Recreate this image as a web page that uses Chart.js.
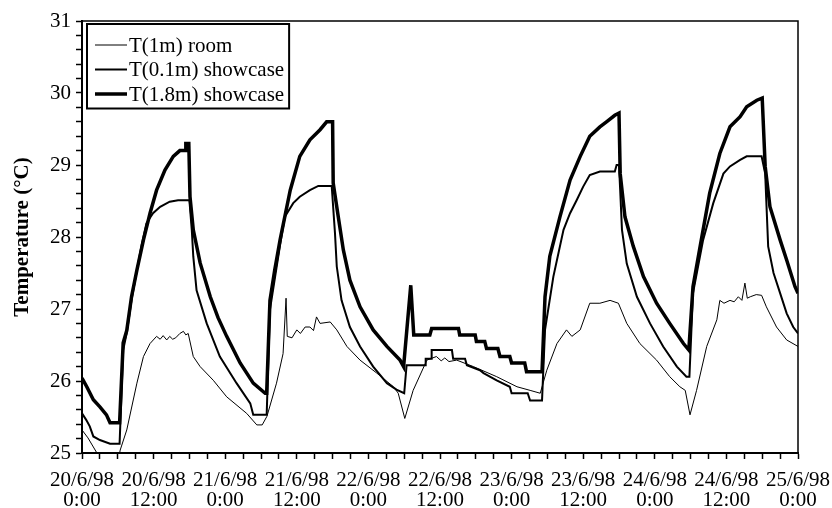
<!DOCTYPE html>
<html>
<head>
<meta charset="utf-8">
<script src="https://cdn.jsdelivr.net/npm/chart.js@4.4.1/dist/chart.umd.min.js"></script>
<style>
html,body{margin:0;padding:0;background:#fff;}
#wrap{width:832px;height:508px;}
</style>
</head>
<body>
<div id="wrap"><canvas id="c" width="832" height="508"></canvas></div>
<script>
// ---- tick labels (x axis: hours from 20/6/98 0:00) ----
const xTickDates = ['20/6/98','20/6/98','21/6/98','21/6/98','22/6/98','22/6/98','23/6/98','23/6/98','24/6/98','24/6/98','25/6/98'];
const xTickTimes = ['0:00','12:00','0:00','12:00','0:00','12:00','0:00','12:00','0:00','12:00','0:00'];
const seriesLabels = ['T(1m) room','T(0.1m) showcase','T(1.8m) showcase'];

// ---- T(1m) room ----
const roomHours = [0,1.0,2.5,3.0,6.0,6.4,7.5,9.2,10.3,11.4,12.5,13.1,13.6,14.2,14.7,15.2,15.7,16.4,17.0,17.4,17.8,18.65,19.8,22.0,24.25,27.6,29.3,30.2,31.0,32.6,33.7,34.2,34.4,35.2,36.0,36.6,37.4,38.2,38.8,39.3,39.9,41.6,42.7,44.4,46.6,49.4,52.2,53.0,54.1,55.5,57.8,59.4,60.2,60.8,61.5,62.8,65.6,69.5,72.9,75.1,76.8,77.9,79.6,81.2,82.1,83.5,85.1,86.8,88.5,89.9,91.3,93.5,96.3,98.5,100.2,101.1,101.9,103.0,104.7,106.4,106.9,107.6,108.6,109.3,110.0,110.6,111.1,111.5,112.0,113.0,113.9,114.7,116.4,118.1,120];
const roomTemps = [25.32,25.21,25.00,24.85,24.85,25.04,25.32,25.97,26.34,26.52,26.62,26.58,26.63,26.57,26.62,26.58,26.60,26.66,26.69,26.64,26.66,26.34,26.20,26.01,25.78,25.55,25.39,25.39,25.51,25.97,26.38,27.15,26.62,26.60,26.71,26.66,26.75,26.75,26.70,26.89,26.80,26.82,26.71,26.48,26.29,26.11,25.92,25.83,25.48,25.87,26.29,26.34,26.28,26.32,26.27,26.29,26.20,26.06,25.92,25.87,25.83,26.15,26.52,26.71,26.62,26.71,27.08,27.08,27.12,27.08,26.80,26.52,26.29,26.06,25.92,25.87,25.53,25.87,26.48,26.85,27.12,27.08,27.12,27.10,27.17,27.12,27.36,27.15,27.17,27.20,27.19,27.03,26.75,26.57,26.48];

// ---- T(0.1m) showcase ----
const lowHours = [0,0.7,1.3,1.9,3.0,4.7,6.3,6.9,7.5,8.3,9.2,10.0,10.8,11.9,13.1,14.7,16.1,18.0,18.4,18.65,19.2,20.9,23.1,25.9,28.2,28.7,30.95,31.5,33.2,34.0,35.4,36.5,38.2,39.6,41.85,42.4,42.7,43.5,44.9,46.6,48.8,51.1,52.7,54.0,54.4,57.5,57.6,58.5,58.6,62.0,62.2,64.2,64.5,66.7,67.3,69.5,71.7,72.0,74.7,75.1,77.1,77.6,79.0,80.7,81.8,82.9,84.0,85.1,86.8,89.3,89.6,90.0,90.2,90.5,91.3,93.0,95.2,97.4,99.7,101.3,101.8,102.4,104.1,105.8,107.5,108.6,110.3,111.4,113.9,114.5,115.0,115.9,117.0,118.1,119.2,120];
const lowTemps = [25.55,25.46,25.37,25.23,25.18,25.13,25.13,26.43,26.67,27.12,27.54,27.89,28.19,28.33,28.42,28.49,28.51,28.51,28.10,27.73,27.26,26.80,26.34,25.97,25.69,25.53,25.53,26.99,27.89,28.28,28.47,28.56,28.65,28.71,28.71,28.05,27.59,27.12,26.75,26.48,26.20,25.97,25.88,25.83,26.22,26.22,26.31,26.31,26.43,26.43,26.31,26.31,26.22,26.15,26.11,26.01,25.92,25.83,25.83,25.73,25.73,26.71,27.45,28.10,28.33,28.51,28.70,28.86,28.91,28.91,29.00,29.00,28.65,28.10,27.63,27.17,26.80,26.48,26.20,26.06,26.06,27.22,27.96,28.47,28.88,28.98,29.07,29.12,29.12,28.88,27.87,27.50,27.22,26.94,26.75,26.66];

// ---- T(1.8m) showcase ----
const highHours = [0,0.8,1.9,3.0,4.1,4.7,6.3,6.9,7.5,8.3,9.2,10.3,11.4,12.5,13.9,15.3,16.4,17.3,17.4,17.9,18.1,18.65,19.8,21.5,22.8,24.25,26.5,28.7,30.7,30.95,31.5,32.3,33.2,34.9,36.5,38.2,39.9,41.0,42.0,42.1,42.95,43.8,44.9,46.6,48.8,51.1,53.3,53.9,55.1,55.6,58.3,58.6,63.1,63.3,65.9,66.1,67.5,67.8,69.7,70.05,71.7,72.0,74.2,74.5,77.1,77.6,78.4,80.1,81.8,83.5,85.1,86.8,87.9,89.3,90.0,90.2,91.0,92.4,94.1,96.3,98.5,100.8,101.7,102.4,103.6,105.2,106.9,108.6,110.3,111.4,113.1,114.0,114.5,115.3,117.0,118.1,119.5,120];
const highTemps = [26.04,25.92,25.74,25.64,25.53,25.42,25.42,26.53,26.70,27.17,27.54,27.96,28.33,28.65,28.93,29.12,29.20,29.20,29.30,29.30,28.56,28.10,27.64,27.17,26.88,26.62,26.25,25.97,25.83,25.83,27.12,27.54,27.96,28.65,29.12,29.35,29.49,29.60,29.60,28.75,28.28,27.82,27.40,27.03,26.71,26.48,26.29,26.20,27.33,26.64,26.64,26.73,26.73,26.64,26.64,26.55,26.55,26.45,26.45,26.34,26.34,26.25,26.25,26.13,26.13,27.17,27.73,28.28,28.79,29.12,29.40,29.53,29.60,29.69,29.72,28.88,28.28,27.87,27.45,27.08,26.80,26.52,26.43,27.31,27.87,28.61,29.16,29.53,29.67,29.81,29.90,29.93,28.98,28.42,27.96,27.68,27.31,27.22];

const FONT = '"Liberation Serif", "Times New Roman", serif';
const pts = (xs, ys) => xs.map((x, i) => ({x: x, y: ys[i]}));

const frameAndLegend = {
  id: 'frameAndLegend',
  afterDatasetsDraw(chart) {
    const ctx = chart.ctx, a = chart.chartArea;
    ctx.save();
    ctx.strokeStyle = '#000';
    ctx.lineWidth = 1.5;
    ctx.strokeRect(a.left, a.top, a.right - a.left, a.bottom - a.top);
    // legend box
    ctx.font = '21px ' + FONT;
    const ds = chart.data.datasets;
    let maxW = 0;
    ds.forEach(d => { maxW = Math.max(maxW, ctx.measureText(d.label).width); });
    const x0 = a.left + 5, y0 = a.top + 3, rowH = 24.5, lineLen = 32;
    const boxW = 8 + lineLen + 2 + maxW + 5;
    const boxH = 3 * rowH + 11;
    ctx.fillStyle = '#fff';
    ctx.fillRect(x0, y0, boxW, boxH);
    ctx.lineWidth = 2;
    ctx.strokeRect(x0, y0, boxW, boxH);
    ds.forEach((d, i) => {
      const cy = y0 + 21 + rowH * i;
      ctx.beginPath();
      ctx.lineWidth = d.borderWidth;
      ctx.moveTo(x0 + 8, cy);
      ctx.lineTo(x0 + 8 + lineLen, cy);
      ctx.stroke();
      ctx.fillStyle = '#000';
      ctx.textBaseline = 'middle';
      ctx.textAlign = 'left';
      ctx.fillText(d.label, x0 + 8 + lineLen + 2, cy + 1);
    });
    ctx.restore();
  }
};

new Chart(document.getElementById('c'), {
  type: 'line',
  data: {
    datasets: [
      {label: seriesLabels[0], data: pts(roomHours, roomTemps), borderColor: '#000', borderWidth: 1, pointRadius: 0, tension: 0},
      {label: seriesLabels[1], data: pts(lowHours, lowTemps), borderColor: '#000', borderWidth: 2, pointRadius: 0, tension: 0},
      {label: seriesLabels[2], data: pts(highHours, highTemps), borderColor: '#000', borderWidth: 3.5, pointRadius: 0, tension: 0}
    ]
  },
  options: {
    responsive: false,
    animation: false,
    layout: {padding: {top: 21, right: 34, left: 0, bottom: 0}},
    plugins: {legend: {display: false}, tooltip: {enabled: false}},
    scales: {
      x: {
        type: 'linear', min: 0, max: 120,
        afterFit(s) { s.height = 55; s.paddingLeft = 0; s.paddingRight = 0; },
        border: {display: true, color: '#000', width: 2},
        grid: {drawOnChartArea: false, drawTicks: true, tickLength: 6, color: '#000', tickWidth: 1.5},
        ticks: {
          stepSize: 3, autoSkip: false, maxRotation: 0, minRotation: 0, padding: 12, color: '#000',
          font: {family: FONT, size: 21, lineHeight: 0.95},
          callback: (v) => {
            if (Math.abs(v % 12) < 1e-6) { const i = Math.round(v / 12); return [xTickDates[i], xTickTimes[i]]; }
            return '';
          }
        }
      },
      y: {
        min: 25, max: 31,
        afterFit(s) { s.width = 82; s.paddingTop = 0; s.paddingBottom = 0; },
        border: {display: true, color: '#000', width: 2},
        grid: {drawOnChartArea: false, drawTicks: true, tickLength: 6, color: '#000', tickWidth: 1.5},
        title: {display: true, text: 'Temperature (°C)', color: '#000', font: {family: FONT, size: 21, weight: 'bold'}, padding: {top: 10, bottom: 0}},
        ticks: {
          stepSize: 0.2, autoSkip: false, padding: 5, color: '#000',
          font: {family: FONT, size: 21},
          callback: (v) => (Math.abs(v - Math.round(v)) < 1e-6 ? String(Math.round(v)) : '')
        }
      }
    }
  },
  plugins: [frameAndLegend]
});
</script>
</body>
</html>
